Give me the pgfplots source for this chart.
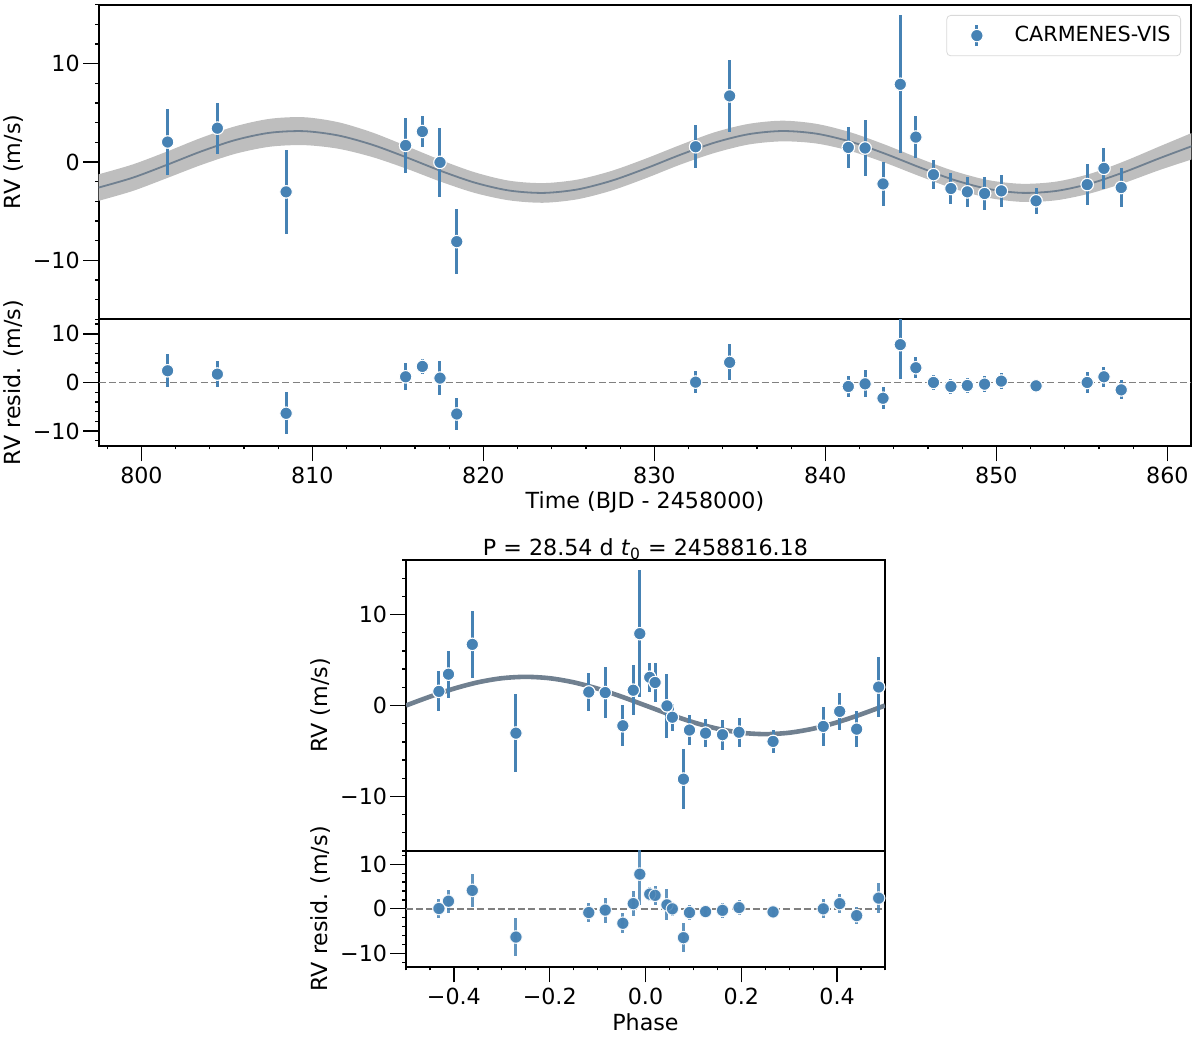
\documentclass[border=0pt]{standalone}
\usepackage{fontspec}
\setmainfont{DejaVu Sans}
\usepackage{pgfplots}
\pgfplotsset{compat=1.18}
\usepackage{pgfplotstable}
\usepgfplotslibrary{fillbetween}
\definecolor{sb}{RGB}{70,130,180}
\definecolor{sg}{RGB}{112,128,144}
\definecolor{bandc}{RGB}{190,190,190}
\newcommand{\fs}{\fontsize{11.1}{13.3}\selectfont}
\newcommand{\fl}{\fontsize{10.4}{12.5}\selectfont}

\pgfplotstableread{
t ph rv r e
801.53 0.4867 2.03 2.41 3.35
804.44 -0.4113 3.44 1.72 2.6
808.46 -0.2705 -3.04 -6.34 4.3
815.45 -0.0256 1.68 1.17 2.75
816.43 0.0088 3.10 3.31 1.62
817.46 0.0448 -0.04 0.90 3.5
818.44 0.0792 -8.10 -6.48 3.3
832.41 -0.4313 1.55 0.07 2.2
834.40 -0.3616 6.72 4.14 3.7
841.34 -0.1184 1.48 -0.83 2.1
842.32 -0.0841 1.42 -0.28 2.8
843.37 -0.0473 -2.23 -3.24 2.25
844.38 -0.0119 7.90 7.79 7.0
845.29 0.0200 2.53 3.03 2.15
846.32 0.0561 -1.29 0.00 1.5
847.34 0.0918 -2.70 -0.83 1.6
848.30 0.1254 -3.04 -0.62 1.55
849.31 0.1608 -3.21 -0.34 1.65
850.29 0.1952 -2.94 0.28 1.6
852.32 0.2663 -3.95 -0.69 1.3
855.31 0.3711 -2.30 0.00 2.1
856.29 0.4054 -0.65 1.17 2.06
857.30 0.4408 -2.60 -1.52 1.94
}\data

\pgfplotstableread{
t m hi lo
797.5 -2.600 -1.250 -3.950
799.5 -1.594 -0.244 -2.944
801.5 -0.284 1.066 -1.634
803.5 1.080 2.460 -0.300
805.5 2.238 3.638 0.838
807.5 2.970 4.390 1.550
809.5 3.134 4.554 1.714
811.5 2.701 4.051 1.351
813.5 1.753 3.003 0.503
815.5 0.470 1.620 -0.680
817.5 -0.902 0.198 -2.002
819.5 -2.103 -1.053 -3.153
821.5 -2.902 -1.902 -3.902
823.5 -3.147 -2.147 -4.147
825.5 -2.792 -1.792 -3.792
827.5 -1.905 -0.905 -2.905
829.5 -0.654 0.346 -1.654
831.5 0.722 1.722 -0.278
833.5 1.960 3.010 0.910
835.5 2.824 3.874 1.774
837.5 3.149 4.199 2.099
839.5 2.873 3.873 1.873
841.5 2.050 3.000 1.100
843.5 0.836 1.756 -0.084
845.5 -0.538 0.362 -1.438
847.5 -1.810 -0.910 -2.710
849.5 -2.736 -1.836 -3.636
851.5 -3.140 -2.220 -4.060
853.5 -2.946 -1.996 -3.896
855.5 -2.189 -1.189 -3.189
857.5 -1.015 0.085 -2.115
859.5 0.353 1.553 -0.847
861.5 1.654 3.004 0.304
}\model

\pgfplotstableread{
ph m
-0.50 0.000
-0.45 0.973
-0.40 1.852
-0.35 2.548
-0.30 2.996
-0.25 3.150
-0.20 2.996
-0.15 2.548
-0.10 1.852
-0.05 0.973
0.00 0.000
0.05 -0.973
0.10 -1.852
0.15 -2.548
0.20 -2.996
0.25 -3.150
0.30 -2.996
0.35 -2.548
0.40 -1.852
0.45 -0.973
0.50 0.000
}\phmodel

\pgfplotsset{
  rvbase/.style={scale only axis, anchor=south west,
    axis line style={line width=1pt},
    tick align=outside, major tick length=7.8pt, minor tick length=1.8pt,
    every tick/.append style={black, line width=0.65pt},
    tick label style={font=\fs}, label style={font=\fs}, title style={font=\fs},
    xtick pos=left, ytick pos=left,
    yticklabel style={inner sep=1.5pt},
    xticklabel style={inner sep=2.5pt}},
  errs/.style={only marks, draw=sb, mark=*, mark size=3.1pt,
    mark options={fill=sb, draw=white, line width=0.5pt},
    error bars/.cd, y dir=both, y explicit, error mark=none,
    error bar style={sb, line width=1.5pt}},
  dots/.style={only marks, draw=sb, mark=*, mark size=3.1pt,
    mark options={fill=sb, draw=white, line width=0.5pt}},
  zline/.style={gray, line width=0.7pt, dash pattern=on 3.5pt off 1.6pt},
}

\begin{document}
\begin{tikzpicture}
\path (0pt,0pt) rectangle (600pt,518.5pt);

% top: RV vs time
\begin{axis}[rvbase, at={(49.35pt,358.85pt)}, width=546.3pt, height=157.3pt,
  xmin=797.5, xmax=861.4, ymin=-16, ymax=16,
  xtick=\empty, ytick={-10,0,10}, yticklabels={−10,0,10},
  minor ytick={-16,-14,...,16},
  ylabel={RV (m/s)}, ylabel style={at={(axis description cs:-0.0775,0.5)}, anchor=center},
  legend cell align=left,
  legend style={at={(axis description cs:1,1)}, anchor=north east, xshift=-5.15pt, yshift=-5.15pt,
    draw=black!15, rounded corners=2pt, fill=white, font=\fl, inner xsep=3pt, inner ysep=3.5pt},
  legend image code/.code={\path (0pt,0pt) (28.5pt,0pt);
    \draw[sb, line width=1.5pt] (11.85pt,-5.25pt) -- (11.85pt,5.25pt);
    \filldraw[fill=sb, draw=white, line width=0.5pt] (11.85pt,0pt) circle (3.1pt);}]
\addplot[name path=hi, draw=none, smooth, forget plot] table[x=t, y=hi]{\model};
\addplot[name path=lo, draw=none, smooth, forget plot] table[x=t, y=lo]{\model};
\addplot[fill=bandc, draw=none, forget plot] fill between[of=hi and lo];
\addplot[sg, line width=0.9pt, smooth, forget plot] table[x=t, y=m]{\model};
\addplot[errs] table[x=t, y=rv, y error=e]{\data};
\addlegendentry{CARMENES-VIS}
\addplot[dots, forget plot] table[x=t, y=rv]{\data};
\end{axis}

% top residuals
\begin{axis}[rvbase, at={(49.35pt,295.65pt)}, width=546.3pt, height=63.2pt,
  xmin=797.5, xmax=861.4, ymin=-13, ymax=13,
  xtick={800,810,820,830,840,850,860}, xticklabels={800,810,820,830,840,850,860},
  minor xtick={798,800,...,860},
  ytick={-10,0,10}, yticklabels={−10,0,10}, minor ytick={-12,-10,...,12},
  xlabel={Time (BJD - 2458000)},
  xlabel style={at={(axis description cs:0.5,0)}, anchor=center, yshift=-28.5pt},
  ylabel={RV resid. (m/s)}, ylabel style={at={(axis description cs:-0.0775,0.5)}, anchor=center}]
\addplot[zline] coordinates {(797.5,0) (861.4,0)};
\addplot[errs] table[x=t, y=r, y error=e]{\data};
\addplot[dots] table[x=t, y=r]{\data};
\end{axis}

% phase folded
\begin{axis}[rvbase, at={(203pt,93pt)}, width=239.5pt, height=145.5pt,
  xmin=-0.5, xmax=0.5, ymin=-16, ymax=16,
  xtick=\empty, ytick={-10,0,10}, yticklabels={−10,0,10},
  minor ytick={-16,-14,...,16},
  title={P = 28.54 d \textit{t}\textsubscript{0} = 2458816.18},
  title style={at={(axis description cs:0.5,1)}, anchor=base, yshift=-4pt},
  ylabel={RV (m/s)}, ylabel style={at={(axis description cs:-0.1775,0.5)}, anchor=center}]
\addplot[sg, line width=2.3pt, smooth] table[x=ph, y=m]{\phmodel};
\addplot[errs] table[x=ph, y=rv, y error=e]{\data};
\addplot[dots] table[x=ph, y=rv]{\data};
\end{axis}

% phase residuals
\begin{axis}[rvbase, at={(203pt,35.15pt)}, width=239.5pt, height=57.85pt,
  xmin=-0.5, xmax=0.5, ymin=-13, ymax=13,
  xtick={-0.4,-0.2,0,0.2,0.4}, xticklabels={−0.4,−0.2,0.0,0.2,0.4},
  minor xtick={-0.5,-0.45,-0.35,-0.3,-0.25,-0.15,-0.1,-0.05,0.05,0.1,0.15,0.25,0.3,0.35,0.45,0.5},
  ytick={-10,0,10}, yticklabels={−10,0,10}, minor ytick={-12,-10,...,12},
  xlabel={Phase},
  xlabel style={at={(axis description cs:0.5,0)}, anchor=center, yshift=-27.65pt},
  ylabel={RV resid. (m/s)}, ylabel style={at={(axis description cs:-0.1775,0.5)}, anchor=center}]
\addplot[zline] coordinates {(-0.5,0) (0.5,0)};
\addplot[opacity=0.85, errs] table[x=ph, y=r, y error=e]{\data};
\addplot[opacity=0.85, dots] table[x=ph, y=r]{\data};
\end{axis}
\pgfresetboundingbox
\path[use as bounding box] (0pt,0pt) rectangle (600pt,518.5pt);
\end{tikzpicture}
\end{document}
